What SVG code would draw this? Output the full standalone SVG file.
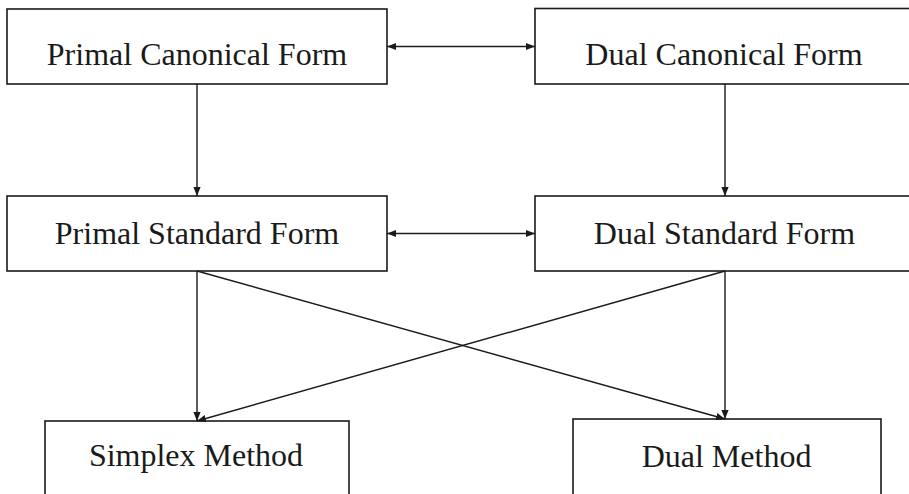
<svg xmlns="http://www.w3.org/2000/svg" width="909" height="494" viewBox="0 0 909 494">
  <defs>
    <marker id="ah" viewBox="0 0 10 10" refX="10" refY="5" markerWidth="9" markerHeight="9" markerUnits="userSpaceOnUse" orient="auto-start-reverse">
      <path d="M0,1 L10,5 L0,9 Z" fill="#1a1a1a"/>
    </marker>
    <style>
      .box { fill: #ffffff; stroke: #1a1a1a; stroke-width: 1.6; }
      .lbl { font-family: "Liberation Serif", "DejaVu Serif", serif; font-size: 32px; fill: #1a1a1a; text-anchor: middle; }
      .edge { stroke: #1a1a1a; stroke-width: 1.4; fill: none; }
    </style>
  </defs>
  <rect width="909" height="494" fill="#ffffff"/>
  <g id="primal-canonical">
    <rect class="box" x="7" y="9" width="380" height="75"/>
    <text class="lbl" x="197" y="65">Primal Canonical Form</text>
  </g>
  <g id="dual-canonical">
    <rect class="box" x="535" y="8.5" width="390" height="75.5"/>
    <text class="lbl" x="724" y="65">Dual Canonical Form</text>
  </g>
  <g id="primal-standard">
    <rect class="box" x="7" y="196" width="380" height="75"/>
    <text class="lbl" x="197" y="244">Primal Standard Form</text>
  </g>
  <g id="dual-standard">
    <rect class="box" x="535" y="196" width="390" height="75"/>
    <text class="lbl" x="724.5" y="244">Dual Standard Form</text>
  </g>
  <g id="simplex-method">
    <rect class="box" x="45" y="421" width="304" height="90"/>
    <text class="lbl" x="196" y="466">Simplex Method</text>
  </g>
  <g id="dual-method">
    <rect class="box" x="573" y="419" width="308" height="90"/>
    <text class="lbl" x="726.5" y="467">Dual Method</text>
  </g>
  <g id="connectors">
    <line class="edge" x1="387" y1="46.5" x2="535" y2="46.5" marker-start="url(#ah)" marker-end="url(#ah)"/>
    <line class="edge" x1="387" y1="233.5" x2="535" y2="233.5" marker-start="url(#ah)" marker-end="url(#ah)"/>
    <line class="edge" x1="197" y1="84" x2="197" y2="196" marker-end="url(#ah)"/>
    <line class="edge" x1="725" y1="84" x2="725" y2="196" marker-end="url(#ah)"/>
    <line class="edge" x1="197" y1="271" x2="197" y2="421" marker-end="url(#ah)"/>
    <line class="edge" x1="725" y1="271" x2="725" y2="419" marker-end="url(#ah)"/>
    <line class="edge" x1="197" y1="271" x2="725" y2="419" marker-end="url(#ah)"/>
    <line class="edge" x1="725" y1="271" x2="197" y2="421" marker-end="url(#ah)"/>
  </g>
</svg>
